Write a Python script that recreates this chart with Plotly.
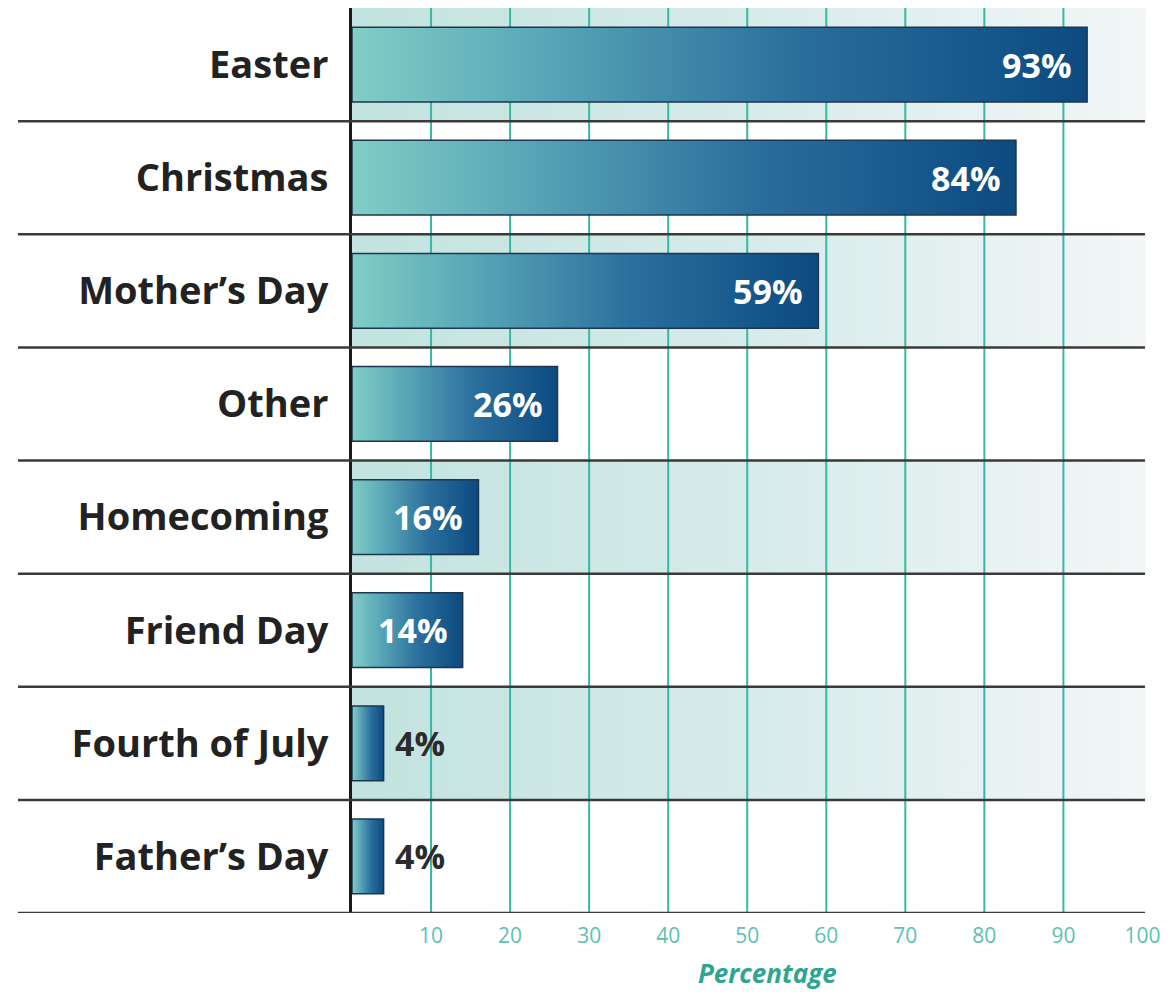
import plotly.graph_objects as go

categories = ["Easter", "Christmas", "Mother’s Day", "Other", "Homecoming",
              "Friend Day", "Fourth of July", "Father’s Day"]
values = [93, 84, 59, 26, 16, 14, 4, 4]
tick_values = [10, 20, 30, 40, 50, 60, 70, 80, 90, 100]
tick_labels = [str(t) for t in tick_values]
grid_values = [10, 20, 30, 40, 50, 60, 70, 80, 90]
shaded_rows = [0, 2, 4, 6]

X_MAX = 100.45
BAR_HALF = 0.33

fig = go.Figure()

# alternating shaded bands
for i in shaded_rows:
    fig.add_trace(go.Scatter(
        x=[0, X_MAX, X_MAX, 0, 0],
        y=[i - 0.5, i - 0.5, i + 0.5, i + 0.5, i - 0.5],
        mode="lines", fill="toself",
        fillgradient=dict(type="horizontal",
                          colorscale=[[0, "#c2e3df"], [0.5, "#d6ebea"], [1, "#f3f6f7"]]),
        line=dict(width=0), hoverinfo="skip", showlegend=False))

# vertical grid lines
gx, gy = [], []
for g in grid_values:
    gx += [g, g, None]
    gy += [-0.5, 7.5, None]
fig.add_trace(go.Scatter(x=gx, y=gy, mode="lines",
                         line=dict(color="#36b9a3", width=2),
                         hoverinfo="skip", showlegend=False))

# gradient bars
for i, v in enumerate(values):
    fig.add_trace(go.Scatter(
        x=[0, v, v, 0, 0],
        y=[i - BAR_HALF, i - BAR_HALF, i + BAR_HALF, i + BAR_HALF, i - BAR_HALF],
        mode="lines", fill="toself",
        fillgradient=dict(type="horizontal",
                          colorscale=[[0, "#80cec5"], [0.25, "#5aa8b8"],
                                      [0.6, "#2b6f9d"], [1, "#0c4a80"]]),
        line=dict(color="#1c3650", width=1.5),
        name=categories[i], hovertemplate=f"{categories[i]}: {v}%<extra></extra>",
        showlegend=False))

# value labels
for i, v in enumerate(values):
    inside = v >= 10
    fig.add_annotation(
        x=v, y=i, text=f"{v}%", showarrow=False,
        xanchor="right" if inside else "left",
        xshift=-13 if inside else 9,
        font=dict(family="Open Sans", size=34, weight=700,
                  color="#ffffff" if inside else "#2b2b2b"))

# row separator lines
for i in range(len(categories)):
    fig.add_shape(type="line", xref="paper", yref="y",
                  x0=-0.4207, x1=0.9987, y0=i + 0.5, y1=i + 0.5,
                  line=dict(color="#3a3a3a", width=2.5), layer="above")

fig.add_annotation(text="<i><b>Percentage</b></i>", xref="paper", yref="paper",
                   x=0.5227, y=-0.066, showarrow=False, xanchor="center", yanchor="middle",
                   font=dict(family="Open Sans", size=26, color="#2fa58f"))

fig.update_layout(
    width=1165, height=989,
    margin=dict(l=344, r=27, t=0, b=84),
    paper_bgcolor="white", plot_bgcolor="white",
    xaxis=dict(range=[0, X_MAX], tickvals=tick_values, ticktext=tick_labels,
               showgrid=False, zeroline=False, showline=False, ticks="",
               ticklabelstandoff=8,
               tickfont=dict(family="Open Sans", size=21, color="#5dc0b2"),
               fixedrange=True),
    yaxis=dict(range=[7.5, -0.5], tickvals=list(range(len(categories))),
               ticktext=categories, showgrid=False, zeroline=False,
               showline=True, linecolor="#1a1a1a", linewidth=3, ticks="",
               ticklabelstandoff=13,
               tickfont=dict(family="Open Sans", size=38, weight=700, color="#222222"),
               fixedrange=True),
)

fig.write_html("out.html")
